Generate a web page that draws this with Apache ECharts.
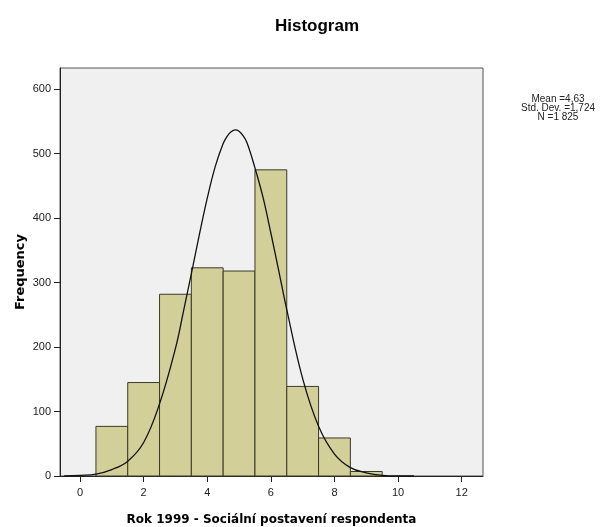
<!DOCTYPE html>
<html>
<head>
<meta charset="utf-8">
<script src="https://cdn.jsdelivr.net/npm/echarts@6/dist/echarts.min.js"></script>
<style>
  html, body { margin: 0; padding: 0; background: #fff; }
  #hist { width: 602px; height: 527px; }
</style>
</head>
<body>
<div id="hist"></div>
<script>
// histogram bins (width 1, centred on integers)
var binCenters = [1, 2, 3, 4, 5, 6, 7, 8, 9];
var binCounts = [77, 145, 282, 323, 318, 475, 139, 59, 7];

// normal curve
var curveX = [-0.5, 0, 0.5, 1, 1.5, 2, 2.5, 3, 3.25, 3.5, 3.75, 4, 4.25, 4.5, 4.625, 4.75, 4.875, 5, 5.125, 5.25, 5.5, 5.75, 6, 6.25, 6.5, 7, 7.5, 8, 8.5, 9, 9.5, 10, 10.5];
var curveY = [0, 1, 3, 10, 23, 52, 112, 198, 255, 314, 374, 431, 480, 516, 527, 534, 537, 535, 528, 517, 478, 433, 377, 318, 258, 151, 77, 34, 13, 5, 1, 0, 0];

var xTicks = [0, 2, 4, 6, 8, 10, 12];
var yTicks = [0, 100, 200, 300, 400, 500, 600];

var statLines = ["Mean =4,63", "Std. Dev. =1,724", "N =1 825"];

var curveData = [];
for (var i = 0; i < curveX.length; i++) {
  curveData.push([curveX[i], curveY[i]]);
}
var barData = [];
for (var j = 0; j < binCenters.length; j++) {
  barData.push([binCenters[j], binCounts[j]]);
}

var chart = echarts.init(document.getElementById("hist"));
chart.setOption({
  animation: false,
  textStyle: { fontFamily: "Liberation Sans" },
  title: {
    text: "Histogram",
    left: 312,
    top: 13,
    textAlign: "center",
    textStyle: { fontSize: 17, fontWeight: "bold", color: "#000", fontFamily: "Liberation Sans" }
  },
  grid: {
    left: 60,
    top: 68,
    right: 119,
    bottom: 51,
    outerBoundsMode: "none",
    show: true,
    backgroundColor: "#f0f0f0",
    borderColor: "#555",
    borderWidth: 1
  },
  xAxis: {
    type: "value",
    min: -0.63,
    max: 12.67,
    name: "Rok 1999 - Sociální postavení respondenta",
    nameLocation: "middle",
    nameGap: 38,
    nameTextStyle: { fontSize: 12, fontWeight: "bold", color: "#000", fontFamily: "DejaVu Sans" },
    splitLine: { show: false },
    axisLine: { show: true, onZero: false, lineStyle: { color: "#222", width: 1 } },
    axisTick: { show: true, length: 6, customValues: xTicks, lineStyle: { color: "#222" } },
    axisLabel: { customValues: xTicks, fontSize: 11, color: "#222", margin: 11 }
  },
  yAxis: {
    type: "value",
    min: 0,
    max: 633,
    name: "Frequency",
    nameLocation: "middle",
    nameGap: 33,
    nameMoveOverlap: false,
    nameTextStyle: { fontSize: 13, fontWeight: "bold", color: "#000", fontFamily: "DejaVu Sans" },
    splitLine: { show: false },
    axisLine: { show: true, onZero: false, lineStyle: { color: "#222", width: 1 } },
    axisTick: { show: true, length: 6, customValues: yTicks, lineStyle: { color: "#222" } },
    axisLabel: { customValues: yTicks, fontSize: 11, color: "#222", margin: 9 }
  },
  graphic: [
    {
      type: "text",
      x: 558,
      y: 95,
      style: {
        text: statLines.join("\n"),
        align: "center",
        verticalAlign: "top",
        fontSize: 10,
        lineHeight: 9,
        fill: "#222",
        fontFamily: "Liberation Sans"
      }
    }
  ],
  series: [
    {
      type: "custom",
      data: barData,
      z: 2,
      renderItem: function (params, api) {
        var x = api.value(0);
        var v = api.value(1);
        var p0 = api.coord([x - 0.5, v]);
        var p1 = api.coord([x + 0.5, 0]);
        return {
          type: "rect",
          shape: { x: p0[0], y: p0[1], width: p1[0] - p0[0], height: p1[1] - p0[1] },
          style: { fill: "#d3cf98", stroke: "#3a3a2a", lineWidth: 1 }
        };
      }
    },
    {
      type: "line",
      data: curveData,
      smooth: 0.4,
      symbol: "none",
      z: 3,
      lineStyle: { color: "#111", width: 1.3 }
    }
  ]
});
</script>
</body>
</html>
